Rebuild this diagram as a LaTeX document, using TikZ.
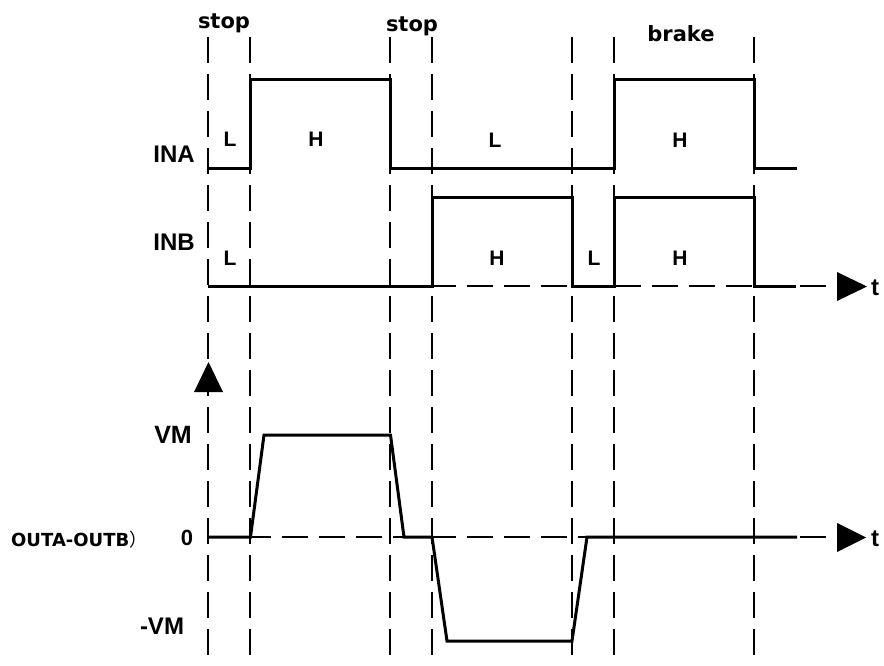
\documentclass[tikz,border=0pt]{standalone}
\usepackage{fontspec}
\setmainfont{Liberation Sans}
\newfontfamily\djv{DejaVu Sans}
\newfontfamily\cjk{Noto Sans CJK SC}
\begin{document}
\begin{tikzpicture}[x=1pt,y=-1pt,
  sig/.style={line width=3pt, line join=miter},
  grid/.style={line width=1.5pt, dash pattern=on 26pt off 11pt},
  tip/.style={fill=black},
  lbl/.style={inner sep=0pt, anchor=base, font=\bfseries\fontsize{24}{24}\selectfont},
  lvl/.style={inner sep=0pt, anchor=base, font=\bfseries\fontsize{21}{21}\selectfont},
  evt/.style={inner sep=0pt, anchor=base, font=\djv\bfseries\fontsize{21}{21}\selectfont}]
\useasboundingbox (0,0) rectangle (884,666);
\fill[white] (0,0) rectangle (884,666);
% vertical dashed time markers
\foreach \x in {208,250,390,432,572,614,754}
  \draw[grid] (\x,37) -- (\x,666);
% axes
\coordinate (ax1s) at (208,286);
\coordinate (ax1e) at (838,286);
\coordinate (ax2s) at (208,537);
\coordinate (ax2e) at (838,537);
\draw[grid] (ax1s) -- (ax1e);
\draw[grid] (ax2s) -- (ax2e);
\fill[tip] (837,272) -- (867,286.5) -- (837,301) -- cycle;
\fill[tip] (837,523) -- (866,537.5) -- (837,552) -- cycle;
\fill[tip] (208.5,362) -- (223,392) -- (194,392) -- cycle;
% waveforms
\draw[sig] (208,169) -- (250.5,169) -- (250.5,80) -- (390.5,80) -- (390.5,169) -- (614,169) -- (614,80) -- (754,80) -- (754,169) -- (797,169);
\draw[sig] (208,286) -- (432,286) -- (432,198) -- (572,198) -- (572,286) -- (614,286) -- (614,198) -- (754,198) -- (754,286) -- (796,286);
\draw[sig] (208,537) -- (250.5,537) -- (264,435) -- (390.5,435) -- (404,537) -- (432,537) -- (447,641) -- (572,641) -- (587,537) -- (797,537);
% event labels
\node[evt] (stopA) at (224,29) {stop};
\node[evt] (stopB) at (412,32) {stop};
\node[evt] (brake) at (681,42) {brake};
% signal names
\node[lbl] (ina) at (174,163) {INA};
\node[lbl] (inb) at (174,250) {INB};
% levels
\node[lvl] (aL1) at (230,147) {L};
\node[lvl] (aH1) at (316,147) {H};
\node[lvl] (aL2) at (495,148) {L};
\node[lvl] (aH2) at (680,148) {H};
\node[lvl] (bL1) at (230,265) {L};
\node[lvl] (bH1) at (497,265) {H};
\node[lvl] (bL2) at (594,265) {L};
\node[lvl] (bH2) at (680,265) {H};
% output labels
\node[lbl, font=\bfseries\fontsize{25}{25}\selectfont] (vm) at (173,443) {VM};
\node[lbl, font=\bfseries\fontsize{22}{22}\selectfont] (zero) at (187,545) {0};
\node[lbl, font=\bfseries\fontsize{24}{24}\selectfont] (mvm) at (162,634) {-VM};
\node[inner sep=0pt, anchor=base west, font=\djv\bfseries\fontsize{18}{18}\selectfont] (outab) at (11,546) {OUTA-OUTB{\cjk\mdseries ）}};
% time labels
\node[inner sep=0pt, anchor=base west, font=\bfseries\fontsize{24}{24}\selectfont] (tA) at (871,295) {t};
\node[inner sep=0pt, anchor=base west, font=\bfseries\fontsize{24}{24}\selectfont] (tB) at (871,546) {t};
\end{tikzpicture}
\end{document}
